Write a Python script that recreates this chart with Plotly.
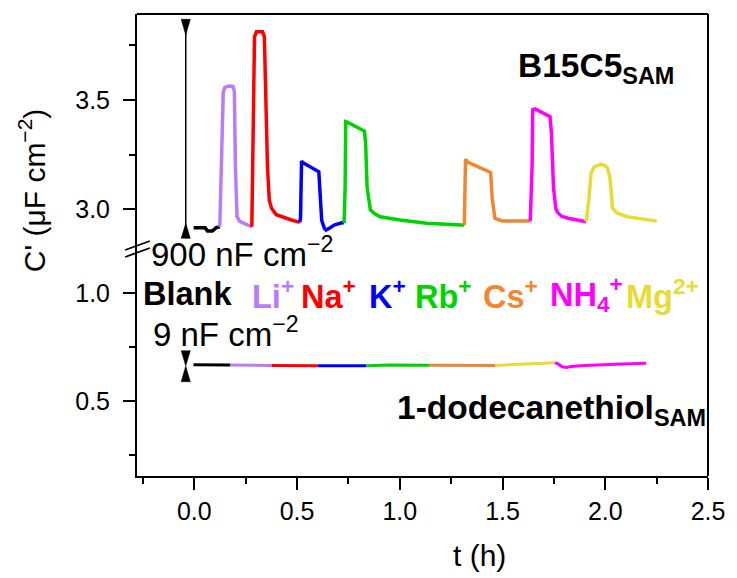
import plotly.graph_objects as go

# ---------------- data (t in h, C' in uF cm^-2) ----------------
ion_labels = ["Blank", "Li<sup>+</sup>", "Na<sup>+</sup>", "K<sup>+</sup>", "Rb<sup>+</sup>",
              "Cs<sup>+</sup>", "NH<sub>4</sub><sup>+</sup>", "Mg<sup>2+</sup>"]

# B15C5 SAM (upper panel)
b15_blank_t = [-0.003, 0.053, 0.064, 0.088, 0.107, 0.124]
b15_blank_c = [2.916, 2.916, 2.901, 2.901, 2.916, 2.920]
b15_li_t = [0.124, 0.131, 0.135, 0.141, 0.149, 0.168, 0.188, 0.195, 0.200, 0.208, 0.221, 0.240, 0.273, 0.280]
b15_li_c = [2.920, 3.200, 3.450, 3.535, 3.558, 3.564, 3.562, 3.540, 3.200, 2.966, 2.945, 2.936, 2.924, 2.920]
b15_na_t = [0.280, 0.286, 0.293, 0.303, 0.332, 0.341, 0.349, 0.356, 0.365, 0.376, 0.399, 0.425, 0.473, 0.513]
b15_na_c = [2.920, 3.400, 3.790, 3.812, 3.812, 3.790, 3.500, 3.200, 3.040, 3.005, 2.975, 2.966, 2.951, 2.940]
b15_k_t = [0.513, 0.517, 0.522, 0.529, 0.606, 0.611, 0.620, 0.633, 0.641, 0.659, 0.681, 0.721, 0.729]
b15_k_c = [2.940, 2.960, 3.221, 3.213, 3.172, 3.100, 2.950, 2.913, 2.905, 2.915, 2.928, 2.939, 2.937]
b15_rb_t = [0.729, 0.734, 0.737, 0.745, 0.828, 0.834, 0.841, 0.857, 0.880, 0.905, 1.001, 1.130, 1.298, 1.314]
b15_rb_c = [2.937, 3.100, 3.401, 3.399, 3.358, 3.300, 3.100, 2.997, 2.978, 2.966, 2.951, 2.936, 2.928, 2.928]
b15_cs_t = [1.314, 1.320, 1.332, 1.442, 1.450, 1.463, 1.499, 1.562, 1.627, 1.635]
b15_cs_c = [2.928, 3.229, 3.215, 3.169, 3.050, 2.959, 2.946, 2.945, 2.943, 2.946]
b15_nh4_t = [1.635, 1.644, 1.647, 1.659, 1.731, 1.738, 1.748, 1.760, 1.771, 1.788, 1.819, 1.899, 1.907]
b15_nh4_c = [2.946, 3.200, 3.455, 3.459, 3.424, 3.350, 3.100, 3.000, 2.982, 2.968, 2.959, 2.946, 2.943]
b15_mg_t = [1.907, 1.920, 1.931, 1.947, 1.980, 2.000, 2.011, 2.022, 2.027, 2.035, 2.059, 2.107, 2.251]
b15_mg_c = [2.943, 3.043, 3.165, 3.195, 3.206, 3.200, 3.188, 3.150, 3.103, 3.005, 2.982, 2.966, 2.946]

# 1-dodecanethiol SAM (lower panel)
dd_blank_t = [-0.004, 0.176]
dd_blank_c = [0.668, 0.667]
dd_li_t = [0.176, 0.280, 0.376]
dd_li_c = [0.667, 0.665, 0.665]
dd_na_t = [0.376, 0.490, 0.601]
dd_na_c = [0.665, 0.664, 0.664]
dd_k_t = [0.601, 0.720, 0.838]
dd_k_c = [0.664, 0.663, 0.664]
dd_rb_t = [0.838, 0.950, 1.146]
dd_rb_c = [0.664, 0.667, 0.666]
dd_cs_t = [1.146, 1.300, 1.466]
dd_cs_c = [0.666, 0.665, 0.665]
dd_mg_t = [1.466, 1.600, 1.755]
dd_mg_c = [0.665, 0.670, 0.678]
dd_nh4_t = [1.755, 1.770, 1.790, 1.810, 1.835, 1.900, 2.050, 2.199]
dd_nh4_c = [0.678, 0.672, 0.659, 0.656, 0.660, 0.665, 0.671, 0.675]

x_ticks = [0.0, 0.5, 1.0, 1.5, 2.0, 2.5]
y_upper_ticks = [3.0, 3.5]
y_lower_ticks = [0.5, 1.0]

# ---------------- styles ----------------
C = {"Blank": "#000000", "Li": "#B97CF8", "Na": "#FF0000", "K": "#0000FF", "Rb": "#00D400",
     "Cs": "#F28530", "NH4": "#FF00FF", "Mg": "#E6DC35"}
FONT = "Arial, 'Liberation Sans', sans-serif"

fig = go.Figure()

upper = [(b15_blank_t, b15_blank_c, "Blank"), (b15_li_t, b15_li_c, "Li"), (b15_na_t, b15_na_c, "Na"),
         (b15_k_t, b15_k_c, "K"), (b15_rb_t, b15_rb_c, "Rb"), (b15_cs_t, b15_cs_c, "Cs"),
         (b15_nh4_t, b15_nh4_c, "NH4"), (b15_mg_t, b15_mg_c, "Mg")]
lower = [(dd_blank_t, dd_blank_c, "Blank"), (dd_li_t, dd_li_c, "Li"), (dd_na_t, dd_na_c, "Na"),
         (dd_k_t, dd_k_c, "K"), (dd_rb_t, dd_rb_c, "Rb"), (dd_cs_t, dd_cs_c, "Cs"),
         (dd_mg_t, dd_mg_c, "Mg"), (dd_nh4_t, dd_nh4_c, "NH4")]

for t, c, k in upper:
    fig.add_trace(go.Scatter(x=t, y=c, mode="lines", yaxis="y2",
                             line=dict(color=C[k], width=3.5), showlegend=False))
for t, c, k in lower:
    fig.add_trace(go.Scatter(x=t, y=c, mode="lines", yaxis="y",
                             line=dict(color=C[k], width=3), showlegend=False))

# ---------------- layout geometry ----------------
W, H = 737, 578
PL, PR, PT, PB = 137, 715, 14, 476
def px(x):
    return (x - PL) / (PR - PL)
def py(y):
    return (PB - y) / (PB - PT)

split = py(248)

axis_common = dict(showline=True, linecolor="black", linewidth=2, ticks="outside", ticklen=12,
                   tickwidth=2, tickcolor="black", showgrid=False, zeroline=False,
                   tickfont=dict(family=FONT, size=25, color="black"), tickformat=".1f")

fig.update_layout(
    width=W, height=H,
    margin=dict(l=PL, r=W - PR, t=PT, b=H - PB),
    paper_bgcolor="white", plot_bgcolor="white",
    xaxis=dict(range=[-0.2788, 2.5], tickvals=x_ticks, anchor="y",
               minor=dict(tickvals=[-0.25, 0.25, 0.75, 1.25, 1.75, 2.25], ticklen=6, tickwidth=2,
                          tickcolor="black", ticks="outside"),
               **axis_common),
    yaxis=dict(domain=[0, split], range=[0.1518, 1.2103], tickvals=y_lower_ticks, anchor="x",
               ticklabelstandoff=8,
               minor=dict(tickvals=[0.25, 0.75], ticklen=6, tickwidth=2, tickcolor="black", ticks="outside"),
               **axis_common),
    yaxis2=dict(domain=[split, 1], range=[2.8230, 3.8934], tickvals=y_upper_ticks, anchor="x",
                ticklabelstandoff=8,
                minor=dict(tickvals=[3.25, 3.75], ticklen=6, tickwidth=2, tickcolor="black", ticks="outside"),
                **axis_common),
)

shapes = []
# frame (top and right)
shapes.append(dict(type="line", xref="paper", yref="paper", x0=0, x1=1, y0=1, y1=1,
                   line=dict(color="black", width=2)))
shapes.append(dict(type="line", xref="paper", yref="paper", x0=1, x1=1, y0=0, y1=1,
                   line=dict(color="black", width=2)))
# break marks
for dy in (0, 7):
    shapes.append(dict(type="line", xref="paper", yref="paper",
                       x0=px(125), y0=py(250 + dy), x1=px(150), y1=py(241 + dy),
                       line=dict(color="black", width=1.8)))

# scale bars
bx = -0.0416
bl, br = -0.0639, -0.0192
shapes.append(dict(type="line", xref="x", yref="y2", x0=bx, x1=bx, y0=3.8692, y1=2.8673,
                   line=dict(color="black", width=1.5)))
shapes.append(dict(type="path", xref="x", yref="y2",
                   path=f"M {bl},3.8692 L {br},3.8692 L {bx},3.7974 Z",
                   fillcolor="black", line=dict(color="black", width=0.5)))
shapes.append(dict(type="path", xref="x", yref="y2",
                   path=f"M {bl},2.8673 L {br},2.8673 L {bx},2.9360 Z",
                   fillcolor="black", line=dict(color="black", width=0.5)))
shapes.append(dict(type="path", xref="x", yref="y",
                   path=f"M {bl},0.7335 L {br},0.7335 L {bx},0.6625 Z",
                   fillcolor="black", line=dict(color="black", width=0.5)))
shapes.append(dict(type="path", xref="x", yref="y",
                   path=f"M {bl},0.5896 L {br},0.5896 L {bx},0.6625 Z",
                   fillcolor="black", line=dict(color="black", width=0.5)))
fig.update_layout(shapes=shapes)

def ann(text, x, y, size, bold=False, color="black", xanchor="left", yanchor="middle", angle=0):
    fig.add_annotation(text=f"<b>{text}</b>" if bold else text, xref="paper", yref="paper",
                       x=x, y=y, xanchor=xanchor, yanchor=yanchor, showarrow=False,
                       textangle=angle, font=dict(family=FONT, size=size, color=color))

ann("B15C5<sub>SAM</sub>", px(521), py(68), 33.5, bold=True)
ann("1-dodecanethiol<sub>SAM</sub>", px(398), py(410), 33.5, bold=True)
ann("900 nF cm<sup>\u22122</sup>", px(149), py(252), 33)
ann("9 nF cm<sup>\u22122</sup>", px(151), py(332), 33)

ion_x = [141, 251, 301, 370, 416, 485, 553, 630]
ion_c = ["Blank", "Li", "Na", "K", "Rb", "Cs", "NH4", "Mg"]
for lab, xx, key in zip(ion_labels, ion_x, ion_c):
    ann(lab, px(xx), py(294), 32.5, bold=True, color=C[key])

ann("t (h)", px(484), py(555), 30, xanchor="center")
ann("C' (\u03bcF cm<sup>\u22122</sup>)", px(31), py(190), 30, xanchor="center", angle=-90)

fig.write_html("out.html")
